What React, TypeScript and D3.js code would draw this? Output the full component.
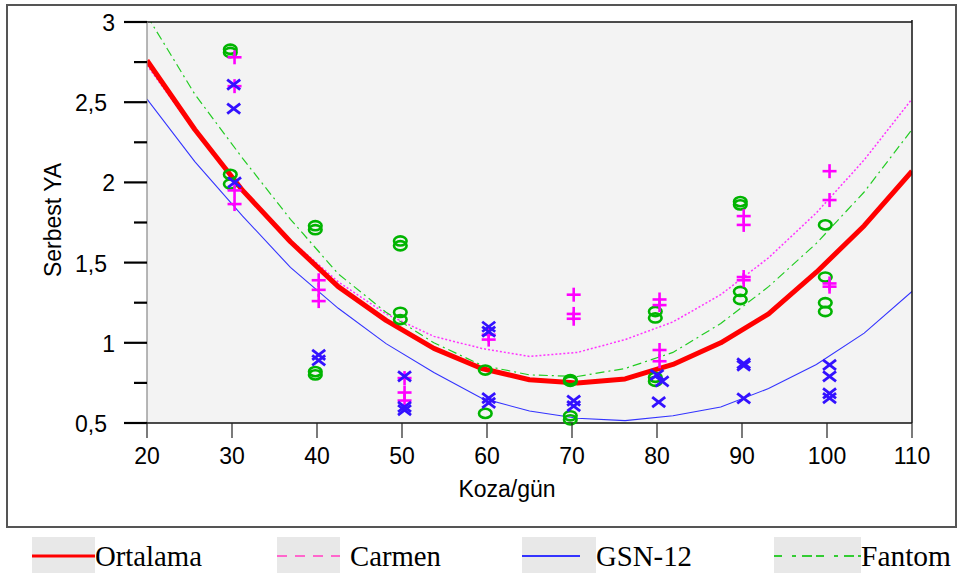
import React from "react";
import * as d3 from "d3";

// Fitted curves (read at their drawn vertices)
const days = [20, 25.625, 31.25, 36.875, 42.5, 48.125, 53.75, 59.375, 65, 70.625, 76.25, 81.875, 87.5, 93.125, 98.75, 104.375, 110];
const ortalama = [2.76, 2.33, 1.95, 1.63, 1.35, 1.14, 0.965, 0.84, 0.77, 0.75, 0.775, 0.865, 1.0, 1.18, 1.44, 1.73, 2.07];
const carmen = [2.73, 2.32, 1.96, 1.64, 1.38, 1.18, 1.04, 0.965, 0.915, 0.94, 1.02, 1.13, 1.3, 1.53, 1.81, 2.14, 2.52];
const gsn12 = [2.52, 2.13, 1.79, 1.47, 1.215, 0.995, 0.815, 0.655, 0.575, 0.53, 0.515, 0.545, 0.6, 0.715, 0.865, 1.06, 1.32];
const fantom = [3.04, 2.55, 2.15, 1.77, 1.43, 1.19, 1.0, 0.86, 0.8, 0.79, 0.84, 0.94, 1.12, 1.35, 1.62, 1.94, 2.33];

// Observations
const carmenObs: [number, number][] = [
  [30.3, 2.78], [30.3, 2.6], [30.3, 1.95], [30.3, 1.865],
  [40.2, 1.39], [40.2, 1.33], [40.2, 1.26],
  [50.3, 0.78], [50.3, 0.69], [50.3, 0.64],
  [60.2, 1.05], [60.2, 1.02],
  [70.2, 1.3], [70.2, 1.18], [70.2, 1.15],
  [80.3, 1.27], [80.3, 1.235], [80.3, 0.955], [80.3, 0.885],
  [90.2, 1.79], [90.2, 1.735], [90.2, 1.41], [90.2, 1.39],
  [100.3, 2.07], [100.3, 1.89], [100.3, 1.37], [100.3, 1.35],
];
const gsnObs: [number, number][] = [
  [30.2, 2.61], [30.2, 2.46], [30.3, 2.0],
  [40.2, 0.925], [40.2, 0.89],
  [50.3, 0.79], [50.3, 0.6], [50.3, 0.58],
  [60.2, 1.1], [60.2, 1.07], [60.2, 0.655], [60.2, 0.625],
  [70.2, 0.64], [70.2, 0.605],
  [80.0, 0.8], [80.6, 0.76], [80.2, 0.63],
  [90.2, 0.872], [90.2, 0.858], [90.2, 0.653],
  [100.3, 0.862], [100.3, 0.79], [100.3, 0.685], [100.3, 0.655],
];
const fantomObs: [number, number][] = [
  [29.8, 2.83], [29.8, 2.81], [29.8, 2.05], [29.8, 1.99],
  [39.8, 1.73], [39.8, 1.705], [39.8, 0.82], [39.8, 0.8],
  [49.8, 1.635], [49.8, 1.605], [49.8, 1.19], [49.8, 1.145],
  [59.8, 0.83], [59.8, 0.56],
  [69.8, 0.77], [69.8, 0.76], [69.8, 0.545], [69.8, 0.52],
  [79.8, 1.195], [79.8, 1.155], [79.8, 0.785], [79.8, 0.76],
  [89.8, 1.88], [89.8, 1.86], [89.8, 1.32], [89.8, 1.27],
  [99.8, 1.735], [99.8, 1.41], [99.8, 1.25], [99.8, 1.195],
];

const xTicks = [20, 30, 40, 50, 60, 70, 80, 90, 100, 110];
const yTicks = [0.5, 1, 1.5, 2, 2.5, 3];
const yMinor = [0.75, 1.25, 1.75, 2.25, 2.75];
const legendNames = ["Ortalama", "Carmen", "GSN-12", "Fantom"];

const L = 147, R = 912, T = 22, B = 423;
const font = "'Liberation Sans', Arial, sans-serif";

export default function App() {
  const x = d3.scaleLinear().domain([20, 110]).range([L, R]);
  const y = d3.scaleLinear().domain([0.5, 3]).range([B, T]);
  const line = (vals: number[]) =>
    d3.line<number>().x((_, i) => x(days[i])).y((v) => y(v))(vals) || "";
  const fmt = (v: number) => String(v).replace(".", ",");

  const legendX = [32, 277, 522, 774];
  const legendW = [63, 63, 74, 87];
  const textX = [95, 350, 596, 861];
  const textW = [107, 91, 96, 90];

  return (
    <svg width={958} height={575} style={{ position: "absolute", left: 0, top: 0, background: "#fff" }}>
      <defs>
        <clipPath id="plot">
          <rect x={L} y={T} width={R - L} height={B - T} />
        </clipPath>
      </defs>
      <rect x={7} y={5} width={949} height={522} fill="#fff" stroke="#555" strokeWidth={2} />
      <rect x={L} y={T} width={R - L} height={B - T} fill="#f3f3f3" />
      <g clipPath="url(#plot)">
        <path d={line(carmen)} fill="none" stroke="#ff33ff" strokeWidth={1.5} strokeDasharray="2,2" />
        <path d={line(fantom)} fill="none" stroke="#22cc22" strokeWidth={1.2} strokeDasharray="9,4,2,4" />
        <path d={line(gsn12)} fill="none" stroke="#3333ff" strokeWidth={1.1} />
        <path d={line(ortalama)} fill="none" stroke="#ff0000" strokeWidth={5} strokeLinejoin="round" />
      </g>
      {/* frame lines */}
      <line x1={L} y1={T} x2={R} y2={T} stroke="#111" strokeWidth={1.5} />
      <line x1={R} y1={20} x2={R} y2={B} stroke="#111" strokeWidth={1.5} />
      <line x1={L} y1={T} x2={L} y2={B} stroke="#888" strokeWidth={1.2} />
      <line x1={L} y1={B} x2={R} y2={B} stroke="#111" strokeWidth={1.5} />
      {/* markers */}
      {fantomObs.map(([d, v], i) => (
        <ellipse key={"f" + i} cx={x(d)} cy={y(v)} rx={6.3} ry={4.6} fill="none" stroke="#00b400" strokeWidth={2.6} />
      ))}
      {carmenObs.map(([d, v], i) => (
        <g key={"c" + i} stroke="#ff00ff" strokeWidth={2.6}>
          <line x1={x(d) - 7} x2={x(d) + 7} y1={y(v)} y2={y(v)} />
          <line x1={x(d)} x2={x(d)} y1={y(v) - 7} y2={y(v) + 7} />
        </g>
      ))}
      {gsnObs.map(([d, v], i) => (
        <g key={"g" + i} stroke="#3311ff" strokeWidth={2.8}>
          <line x1={x(d) - 6.5} x2={x(d) + 6.5} y1={y(v) - 5} y2={y(v) + 5} />
          <line x1={x(d) - 6.5} x2={x(d) + 6.5} y1={y(v) + 5} y2={y(v) - 5} />
        </g>
      ))}
      {/* y axis */}
      {yTicks.map((t) => (
        <g key={"yt" + t}>
          <line x1={124} x2={L} y1={y(t)} y2={y(t)} stroke="#000" strokeWidth={2.2} />
          <text x={fmt(t).includes(",") ? 107 : 115} y={y(t) + 9} textAnchor="end" fontFamily={font} fontSize={23} fill="#000">
            {fmt(t)}
          </text>
        </g>
      ))}
      {yMinor.map((t) => (
        <line key={"ym" + t} x1={134} x2={L} y1={y(t)} y2={y(t)} stroke="#000" strokeWidth={2.2} />
      ))}
      {/* x axis */}
      {xTicks.map((t) => (
        <g key={"xt" + t}>
          <line x1={x(t)} x2={x(t)} y1={B} y2={438} stroke="#222" strokeWidth={1.2} />
          <text x={x(t)} y={464} textAnchor="middle" fontFamily={font} fontSize={23} fill="#000">
            {t}
          </text>
        </g>
      ))}
      <text x={507} y={497} textAnchor="middle" fontFamily={font} fontSize={23} fill="#000">
        Koza/gün
      </text>
      <text transform="translate(61,220) rotate(-90)" textAnchor="middle" fontFamily={font} fontSize={23} fill="#000">
        Serbest YA
      </text>
      {/* legend */}
      {legendNames.map((n, i) => (
        <g key={n}>
          <rect x={legendX[i]} y={537} width={legendW[i]} height={36} fill="#e8e8e8" />
          <text x={textX[i]} y={566} fontFamily="'Liberation Serif', 'Times New Roman', serif" fontSize={30} fill="#000" textLength={textW[i]} lengthAdjust="spacingAndGlyphs">
            {n}
          </text>
        </g>
      ))}
      <line x1={32} x2={95} y1={556} y2={556} stroke="#ff0000" strokeWidth={3} />
      <line x1={277} x2={340} y1={556} y2={556} stroke="#ff66cc" strokeWidth={2} strokeDasharray="10,8" />
      <line x1={522} x2={580} y1={556} y2={556} stroke="#3333ff" strokeWidth={2} />
      <line x1={774} x2={861} y1={556} y2={556} stroke="#33cc33" strokeWidth={2} strokeDasharray="8,10,4,6,10,4" />
    </svg>
  );
}
